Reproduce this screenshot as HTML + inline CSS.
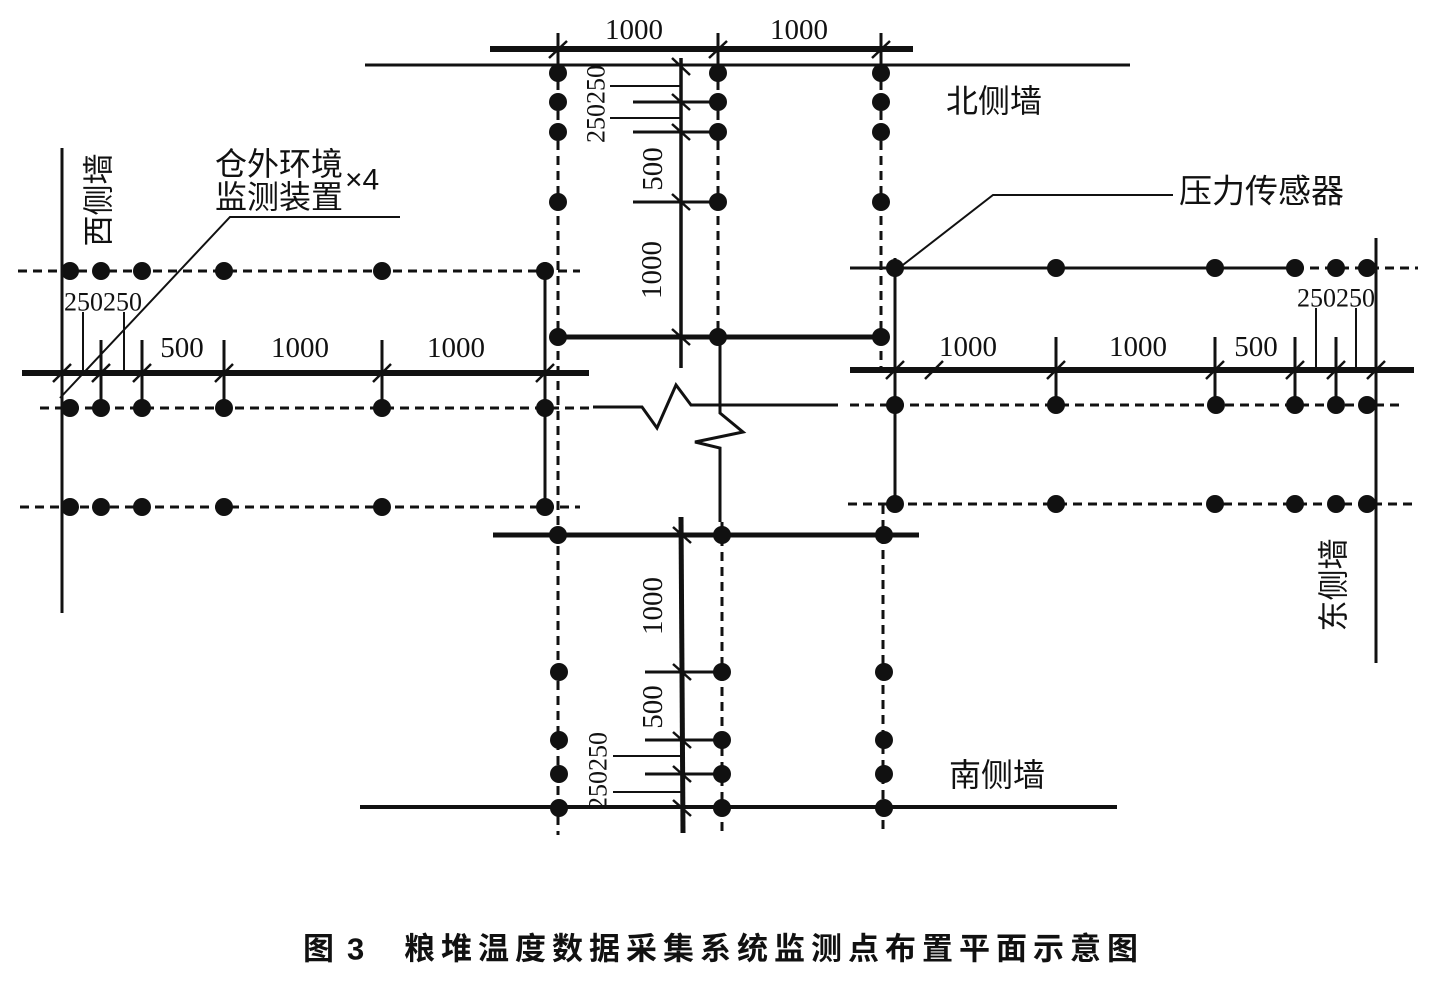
<!DOCTYPE html>
<html><head><meta charset="utf-8">
<style>
html,body{margin:0;padding:0;background:#fff;}
svg{display:block;}
.n{font-family:"Liberation Serif","Noto Serif CJK SC",serif;fill:#111;}
.c{font-family:"Liberation Sans","Noto Sans CJK SC",sans-serif;fill:#111;}
</style></head>
<body>
<svg width="1447" height="983" viewBox="0 0 1447 983" xmlns="http://www.w3.org/2000/svg">
<rect width="1447" height="983" fill="#fff"/>
<g stroke="#111" fill="none" stroke-linecap="butt">
  <!-- walls -->
  <line x1="365" y1="65" x2="1130" y2="65" stroke-width="3"/>
  <line x1="360" y1="807" x2="1117" y2="807" stroke-width="4"/>
  <line x1="62" y1="148" x2="62" y2="613" stroke-width="3"/>
  <line x1="1376" y1="238" x2="1376" y2="663" stroke-width="3"/>

  <!-- top dimension line -->
  <line x1="490" y1="49" x2="913" y2="49" stroke-width="6"/>
  <line x1="558" y1="33" x2="558" y2="65" stroke-width="3"/>
  <line x1="718" y1="33" x2="718" y2="65" stroke-width="3"/>
  <line x1="881" y1="33" x2="881" y2="65" stroke-width="3"/>
  <line x1="549" y1="58" x2="567" y2="41" stroke-width="2.5"/>
  <line x1="709" y1="58" x2="727" y2="41" stroke-width="2.5"/>
  <line x1="872" y1="58" x2="890" y2="41" stroke-width="2.5"/>

  <!-- dashed columns -->
  <g stroke-width="3" stroke-dasharray="9 6">
    <line x1="558" y1="66" x2="558" y2="835"/>
    <line x1="718" y1="66" x2="718" y2="337"/>
    <line x1="722" y1="522" x2="722" y2="835"/>
    <line x1="881" y1="66" x2="881" y2="372"/>
    <line x1="883" y1="505" x2="883" y2="835"/>
    <!-- left rows -->
    <line x1="18" y1="271" x2="580" y2="271"/>
    <line x1="40" y1="408" x2="593" y2="408"/>
    <line x1="20" y1="507" x2="580" y2="507"/>
    <!-- right rows -->
    <line x1="1280" y1="268" x2="1418" y2="268"/>
    <line x1="850" y1="405" x2="1400" y2="405"/>
    <line x1="848" y1="504" x2="1418" y2="504"/>
  </g>

  <!-- top vertical dimension -->
  <line x1="681" y1="58" x2="681" y2="368" stroke-width="3.5"/>
  <line x1="610" y1="86" x2="681" y2="86" stroke-width="2"/>
  <line x1="610" y1="118" x2="681" y2="118" stroke-width="2"/>
  <line x1="633" y1="102" x2="718" y2="102" stroke-width="3"/>
  <line x1="633" y1="132" x2="718" y2="132" stroke-width="3"/>
  <line x1="633" y1="202" x2="718" y2="202" stroke-width="3"/>
  <g stroke-width="2.5">
    <line x1="672" y1="58" x2="690" y2="75"/>
    <line x1="672" y1="94" x2="690" y2="110"/>
    <line x1="672" y1="124" x2="690" y2="140"/>
    <line x1="672" y1="194" x2="690" y2="210"/>
    <line x1="672" y1="329" x2="690" y2="345"/>
  </g>
  <line x1="558" y1="337" x2="881" y2="337" stroke-width="5"/>

  <!-- left side -->
  <line x1="545" y1="262" x2="545" y2="507" stroke-width="3"/>
  <line x1="22" y1="373" x2="589" y2="373" stroke-width="6"/>
  <g stroke-width="3">
    <line x1="101" y1="340" x2="101" y2="408"/>
    <line x1="142" y1="340" x2="142" y2="408"/>
    <line x1="224" y1="340" x2="224" y2="408"/>
    <line x1="382" y1="340" x2="382" y2="408"/>
  </g>
  <g stroke-width="2">
    <line x1="83" y1="312" x2="83" y2="373"/>
    <line x1="124" y1="312" x2="124" y2="373"/>
  </g>
  <g stroke-width="2.5">
    <line x1="53" y1="382" x2="71" y2="364"/>
    <line x1="92" y1="382" x2="110" y2="364"/>
    <line x1="133" y1="382" x2="151" y2="364"/>
    <line x1="215" y1="382" x2="233" y2="364"/>
    <line x1="373" y1="382" x2="391" y2="364"/>
    <line x1="536" y1="382" x2="554" y2="364"/>
  </g>
  <!-- west leader -->
  <polyline points="400,217 230,217 60,398" stroke-width="2"/>

  <!-- break lines -->
  <polyline points="593,407 642,407 657,428 676,385 691,405 838,405" stroke-width="3"/>
  <polyline points="720,337 720,413 743,432 695,442 720,448 720,522" stroke-width="3"/>

  <!-- right side -->
  <line x1="850" y1="268" x2="1280" y2="268" stroke-width="3"/>
  <line x1="895" y1="258" x2="895" y2="507" stroke-width="3"/>
  <line x1="850" y1="370" x2="1414" y2="370" stroke-width="6"/>
  <g stroke-width="3">
    <line x1="1056" y1="337" x2="1056" y2="405"/>
    <line x1="1215" y1="337" x2="1215" y2="405"/>
    <line x1="1295" y1="337" x2="1295" y2="405"/>
    <line x1="1336" y1="337" x2="1336" y2="405"/>
  </g>
  <g stroke-width="2">
    <line x1="1316" y1="308" x2="1316" y2="370"/>
    <line x1="1356" y1="308" x2="1356" y2="370"/>
  </g>
  <g stroke-width="2.5">
    <line x1="886" y1="379" x2="904" y2="361"/>
    <line x1="925" y1="379" x2="943" y2="361"/>
    <line x1="1047" y1="379" x2="1065" y2="361"/>
    <line x1="1206" y1="379" x2="1224" y2="361"/>
    <line x1="1286" y1="379" x2="1304" y2="361"/>
    <line x1="1327" y1="379" x2="1345" y2="361"/>
    <line x1="1367" y1="379" x2="1385" y2="361"/>
  </g>
  <!-- pressure sensor leader -->
  <polyline points="1173,195 993,195 899,268" stroke-width="2"/>

  <!-- bottom -->
  <line x1="493" y1="535" x2="919" y2="535" stroke-width="5"/>
  <line x1="681" y1="517" x2="683" y2="833" stroke-width="5"/>
  <g stroke-width="3">
    <line x1="645" y1="672" x2="722" y2="672"/>
    <line x1="645" y1="740" x2="722" y2="740"/>
    <line x1="645" y1="774" x2="722" y2="774"/>
  </g>
  <g stroke-width="2">
    <line x1="613" y1="756" x2="682" y2="756"/>
    <line x1="613" y1="792" x2="682" y2="792"/>
  </g>
  <g stroke-width="2.5">
    <line x1="673" y1="527" x2="691" y2="543"/>
    <line x1="673" y1="664" x2="691" y2="680"/>
    <line x1="673" y1="732" x2="691" y2="748"/>
    <line x1="673" y1="766" x2="691" y2="782"/>
    <line x1="673" y1="800" x2="691" y2="816"/>
  </g>
</g>

<!-- dots -->
<g fill="#111">
  <circle cx="558" cy="73" r="9"/><circle cx="558" cy="102" r="9"/><circle cx="558" cy="132" r="9"/><circle cx="558" cy="202" r="9"/><circle cx="558" cy="337" r="9"/>
  <circle cx="718" cy="73" r="9"/><circle cx="718" cy="102" r="9"/><circle cx="718" cy="132" r="9"/><circle cx="718" cy="202" r="9"/><circle cx="718" cy="337" r="9"/>
  <circle cx="881" cy="73" r="9"/><circle cx="881" cy="102" r="9"/><circle cx="881" cy="132" r="9"/><circle cx="881" cy="202" r="9"/><circle cx="881" cy="337" r="9"/>

  <circle cx="70" cy="271" r="9"/><circle cx="101" cy="271" r="9"/><circle cx="142" cy="271" r="9"/><circle cx="224" cy="271" r="9"/><circle cx="382" cy="271" r="9"/><circle cx="545" cy="271" r="9"/>
  <circle cx="70" cy="408" r="9"/><circle cx="101" cy="408" r="9"/><circle cx="142" cy="408" r="9"/><circle cx="224" cy="408" r="9"/><circle cx="382" cy="408" r="9"/><circle cx="545" cy="408" r="9"/>
  <circle cx="70" cy="507" r="9"/><circle cx="101" cy="507" r="9"/><circle cx="142" cy="507" r="9"/><circle cx="224" cy="507" r="9"/><circle cx="382" cy="507" r="9"/><circle cx="545" cy="507" r="9"/>

  <circle cx="895" cy="268" r="9"/><circle cx="1056" cy="268" r="9"/><circle cx="1215" cy="268" r="9"/><circle cx="1295" cy="268" r="9"/><circle cx="1336" cy="268" r="9"/><circle cx="1367" cy="268" r="9"/>
  <circle cx="895" cy="405" r="9"/><circle cx="1056" cy="405" r="9"/><circle cx="1216" cy="405" r="9"/><circle cx="1295" cy="405" r="9"/><circle cx="1336" cy="405" r="9"/><circle cx="1367" cy="405" r="9"/>
  <circle cx="895" cy="504" r="9"/><circle cx="1056" cy="504" r="9"/><circle cx="1215" cy="504" r="9"/><circle cx="1295" cy="504" r="9"/><circle cx="1336" cy="504" r="9"/><circle cx="1367" cy="504" r="9"/>

  <circle cx="558" cy="535" r="9"/><circle cx="722" cy="535" r="9"/><circle cx="884" cy="535" r="9"/>
  <circle cx="559" cy="672" r="9"/><circle cx="722" cy="672" r="9"/><circle cx="884" cy="672" r="9"/>
  <circle cx="559" cy="740" r="9"/><circle cx="722" cy="740" r="9"/><circle cx="884" cy="740" r="9"/>
  <circle cx="559" cy="774" r="9"/><circle cx="722" cy="774" r="9"/><circle cx="884" cy="774" r="9"/>
  <circle cx="559" cy="808" r="9"/><circle cx="722" cy="808" r="9"/><circle cx="884" cy="808" r="9"/>
</g>

<!-- number labels -->
<g class="n" font-size="29" text-anchor="middle" dominant-baseline="central">
  <text x="634" y="30">1000</text>
  <text x="799" y="30">1000</text>
  <text x="182" y="348">500</text>
  <text x="300" y="348">1000</text>
  <text x="456" y="348">1000</text>
  <text x="968" y="347">1000</text>
  <text x="1138" y="347">1000</text>
  <text x="1256" y="347">500</text>
  <text transform="translate(653,169) rotate(-90)">500</text>
  <text transform="translate(652,270) rotate(-90)">1000</text>
  <text transform="translate(653,606) rotate(-90)">1000</text>
  <text transform="translate(653,707) rotate(-90)">500</text>
</g>
<g class="n" font-size="26" text-anchor="middle" dominant-baseline="central">
  <text x="103" y="302">250250</text>
  <text x="1336" y="298">250250</text>
  <text transform="translate(596,104) rotate(-90)">250250</text>
  <text transform="translate(598,771) rotate(-90)">250250</text>
</g>

<!-- CJK labels -->
<g class="c" font-size="32" dominant-baseline="central">
  <text x="946" y="101">北侧墙</text>
  <text x="949" y="775">南侧墙</text>
  <text x="1179" y="191" font-size="33">压力传感器</text>
  <text x="215" y="164">仓外环境</text>
  <text x="215" y="197">监测装置</text>
  <text x="345" y="180" font-size="30">×4</text>
  <text transform="translate(99,200) rotate(-90)" text-anchor="middle" font-size="31">西侧墙</text>
  <text transform="translate(1334,585) rotate(-90)" text-anchor="middle" font-size="31">东侧墙</text>
</g>

<!-- caption -->
<g class="c" font-weight="bold" font-size="31" dominant-baseline="central">
  <text x="303" y="949">图</text>
  <text x="347" y="949">3</text>
  <text x="404" y="949" letter-spacing="6">粮堆温度数据采集系统监测点布置平面示意图</text>
</g>
</svg>
</body></html>
